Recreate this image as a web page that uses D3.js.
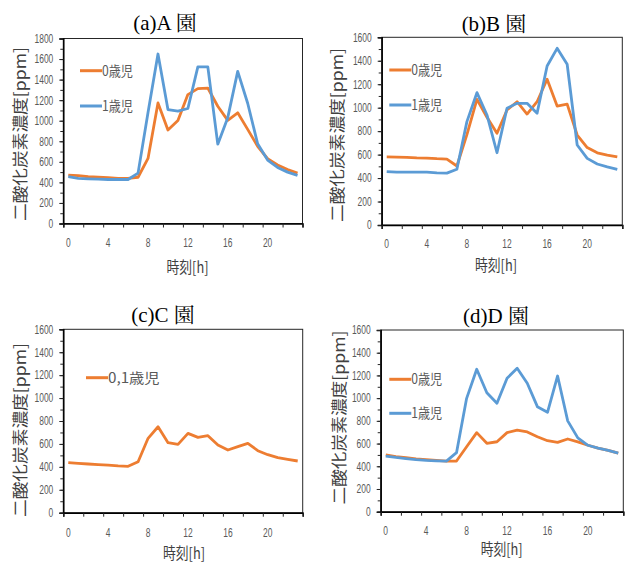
<!DOCTYPE html>
<html><head><meta charset="utf-8">
<script src="https://cdn.jsdelivr.net/npm/d3@7"></script>
<style>body{margin:0;background:#fff}</style></head>
<body><svg id="c" width="627" height="579"></svg>
<script>
// ---- data ----
const hours = [0,1,2,3,4,5,6,7,8,9,10,11,12,13,14,15,16,17,18,19,20,21,22,23];
const xTickLabels = [0,4,8,12,16,20];
const yTicksA = [0,200,400,600,800,1000,1200,1400,1600,1800];
const yTicksBCD = [0,200,400,600,800,1000,1200,1400,1600];
const titles = ["(a)A 園","(b)B 園","(c)C 園","(d)D 園"];
const seriesNames = ["0歳児","1歳児"];
const seriesNameC = ["0,1歳児"];
const yTitle = "二酸化炭素濃度[ppm]";
const xTitle = "時刻[h]";

const A_age0 = [470,465,455,450,445,440,440,450,633,1173,910,1003,1254,1312,1318,1141,1003,1077,916,750,630,570,525,490];
const A_age1 = [455,440,435,432,428,428,428,490,1080,1649,1109,1093,1119,1524,1524,772,1030,1480,1170,775,617,545,500,468];
const B_age0 = [580,578,576,572,570,565,562,503,770,1071,918,782,980,1051,946,1051,1242,1014,1030,767,660,615,595,580];
const B_age1 = [455,450,450,450,450,445,442,475,881,1128,938,616,995,1037,1037,952,1355,1506,1370,682,568,520,495,475];
const C_age01 = [436,430,425,420,415,408,405,445,649,750,611,596,692,657,672,590,547,576,605,541,506,480,465,451];
const D_age0 = [500,485,475,465,458,452,446,446,572,696,602,616,696,719,702,660,625,610,640,615,585,560,540,515];
const D_age1 = [490,478,468,458,452,448,445,520,998,1254,1048,955,1175,1263,1131,925,875,1195,800,650,585,560,540,515];

const ORANGE = "#ED7D31", BLUE = "#5B9BD5";
const svg = d3.select("#c");

const panels = [
  {title:titles[0], yTicks:yTicksA, ymax:1800, x0:63.3, x1:302.5, yT:38.5, yB:223.5,
   series:[{v:A_age0,c:ORANGE,n:seriesNames[0],ly:70.7},{v:A_age1,c:BLUE,n:seriesNames[1],ly:106}],
   lx:80, tx:165, ty:29.5, xlY:247, xtY:272.5, xtX:187.5, ytX:20, ytY:134},
  {title:titles[1], yTicks:yTicksBCD, ymax:1600, x0:381.7, x1:622.3, yT:37.3, yB:225,
   series:[{v:B_age0,c:ORANGE,n:seriesNames[0],ly:70},{v:B_age1,c:BLUE,n:seriesNames[1],ly:105}],
   lx:389.3, tx:494, ty:31, xlY:248, xtY:270.5, xtX:496, ytX:337.5, ytY:135},
  {title:titles[2], yTicks:yTicksBCD, ymax:1600, x0:63.3, x1:302.7, yT:329.3, yB:512.7,
   series:[{v:C_age01,c:ORANGE,n:seriesNameC[0],ly:377.7}],
   lx:86, tx:163, ty:321.5, xlY:536.5, xtY:559, xtX:184, ytX:20, ytY:430},
  {title:titles[3], yTicks:yTicksBCD, ymax:1600, x0:380.7, x1:623.3, yT:330, yB:511.7,
   series:[{v:D_age0,c:ORANGE,n:seriesNames[0],ly:379.3},{v:D_age1,c:BLUE,n:seriesNames[1],ly:413.3}],
   lx:389.3, tx:496, ty:323, xlY:535, xtY:554.5, xtX:501.7, ytX:339, ytY:417.5}
];

const numFont = "'Liberation Sans',Arial,sans-serif";
const cjkFont = "'Noto Sans CJK JP','Noto Sans',sans-serif";
const CH = 4.7; // condensed digit advance

panels.forEach(p => {
  const g = svg.append("g");
  const x = d3.scaleLinear().domain([0,24]).range([p.x0,p.x1]);
  const y = d3.scaleLinear().domain([0,p.ymax]).range([p.yB,p.yT]);

  g.append("rect").attr("x",p.x0).attr("y",p.yT).attr("width",p.x1-p.x0).attr("height",p.yB-p.yT)
    .attr("fill","none").attr("stroke","#262626").attr("stroke-width",1);

  const minor = d3.range(0,p.ymax+1,100);
  g.append("g").attr("transform",`translate(${p.x0},0)`)
    .call(d3.axisLeft(y).tickValues(minor).tickSize(3).tickFormat(""))
    .call(s=>{s.select(".domain").remove(); s.selectAll("line").attr("stroke","#262626");});
  const ya = g.append("g").attr("transform",`translate(${p.x0},0)`)
    .call(d3.axisLeft(y).tickValues(p.yTicks).tickSize(4).tickPadding(6).tickFormat(d3.format("d")));
  ya.select(".domain").attr("stroke","#000").attr("stroke-width",1.5);
  ya.selectAll("line").attr("stroke","#262626");
  ya.selectAll("text").attr("font-family",numFont).attr("font-size",12).attr("fill","#595959")
    .attr("textLength",d=>String(d).length*CH).attr("lengthAdjust","spacingAndGlyphs");

  const xa = g.append("g").attr("transform",`translate(0,${p.yB})`)
    .call(d3.axisBottom(x).tickValues([0,2,4,6,8,10,12,14,16,18,20,22,24]).tickSize(4).tickFormat(""));
  xa.select(".domain").attr("stroke","#000").attr("stroke-width",1.5);
  xa.selectAll("line").attr("stroke","#262626");
  g.selectAll(".xl").data(xTickLabels).join("text")
    .attr("x",d=>x(d)+5).attr("y",p.xlY).attr("text-anchor","middle")
    .attr("font-family",numFont).attr("font-size",12).attr("fill","#595959")
    .attr("textLength",d=>String(d).length*CH).attr("lengthAdjust","spacingAndGlyphs").text(d=>d);

  const line = d3.line().x((d,i)=>x(hours[i]+0.5)).y(d=>y(d));
  p.series.forEach(s=>{
    g.append("path").datum(s.v).attr("d",line).attr("fill","none")
      .attr("stroke",s.c).attr("stroke-width",2.8).attr("stroke-linejoin","round");
    g.append("line").attr("x1",p.lx).attr("x2",p.lx+22).attr("y1",s.ly).attr("y2",s.ly)
      .attr("stroke",s.c).attr("stroke-width",3);
    g.append("text").attr("x",p.lx+22).attr("y",s.ly).attr("dy","0.35em")
      .attr("font-family",cjkFont).attr("font-size",14).attr("fill","#595959")
      .attr("textLength",s.n.length*10.3).attr("lengthAdjust","spacingAndGlyphs").text(s.n);
  });

  g.append("text").attr("x",p.tx).attr("y",p.ty).attr("text-anchor","middle")
    .attr("font-family","'Liberation Serif','Noto Serif CJK JP','Noto Sans CJK JP',serif").attr("font-size",21)
    .attr("fill","#000").text(p.title);
  g.append("text").attr("x",p.xtX).attr("y",p.xtY).attr("text-anchor","middle")
    .attr("font-family",cjkFont).attr("font-size",15.5).attr("fill","#404040")
    .attr("textLength",42).attr("lengthAdjust","spacingAndGlyphs").text(xTitle);
  g.append("text").attr("transform",`translate(${p.ytX},${p.ytY}) rotate(-90)`)
    .attr("text-anchor","middle").attr("dy","0.35em")
    .attr("font-family",cjkFont).attr("font-size",16).attr("fill","#404040")
    .attr("textLength",174).attr("lengthAdjust","spacingAndGlyphs").text(yTitle);
});
</script></body></html>
